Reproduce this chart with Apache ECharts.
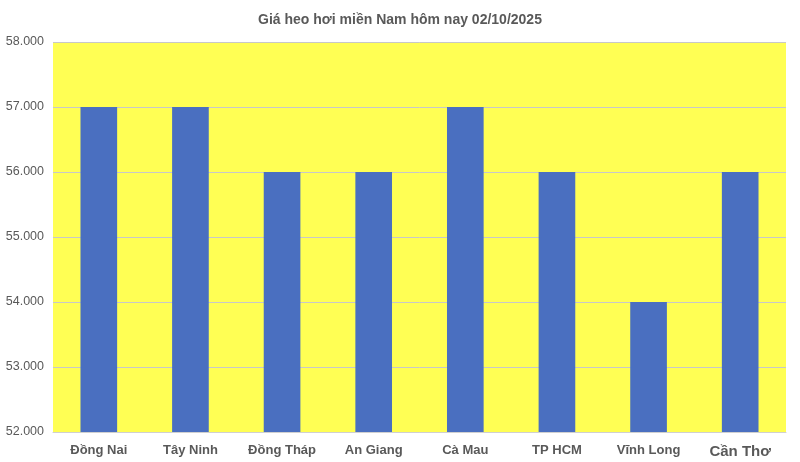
<!DOCTYPE html>
<html><head><meta charset="utf-8">
<script src="https://cdn.jsdelivr.net/npm/echarts@6/dist/echarts.min.js"></script>
<style>html,body{margin:0;padding:0;background:#fff}#c{width:800px;height:462px}</style>
</head><body><div id="c"></div>
<script>
const title = 'Giá heo hơi miền Nam hôm nay 02/10/2025';
const categories = ['Đồng Nai','Tây Ninh','Đồng Tháp','An Giang','Cà Mau','TP HCM','Vĩnh Long','Cần Thơ'];
const prices = [57000,57000,56000,56000,57000,56000,54000,56000];
const yMin = 52000, yMax = 58000, yStep = 1000;

const chart = echarts.init(document.getElementById('c'));
chart.setOption({
  backgroundColor:'#ffffff',
  animation:false,
  title:{text:title,left:'center',top:8,textStyle:{fontFamily:'Liberation Sans',fontWeight:'bold',fontSize:14,color:'#595959'}},
  grid:{left:53,right:14,top:42,bottom:30,backgroundColor:'#FFFF54',show:true,borderWidth:0},
  xAxis:{type:'category',data:categories,
    axisLine:{show:true,lineStyle:{color:'#d0d0d0'}},axisTick:{show:false},
    axisLabel:{interval:0,fontFamily:'Liberation Sans',fontWeight:'bold',fontSize:13,color:'#595959',margin:12,
      formatter:v=>v==='Cần Thơ'?'{big|'+v+'}':v,
      rich:{big:{fontFamily:'Liberation Sans',fontWeight:'bold',fontSize:15,color:'#595959'}}}},
  yAxis:{type:'value',min:yMin,max:yMax,interval:yStep,
    axisLine:{show:false},axisTick:{show:false},
    splitLine:{lineStyle:{color:'#c8c8c8',width:1}},
    axisLabel:{fontFamily:'Liberation Sans',fontSize:12.5,color:'#595959',margin:9,
      formatter:v=>v.toLocaleString('de-DE',{minimumFractionDigits:0}).replace(/,/g,'.')}},
  series:[{type:'bar',data:prices,barWidth:'40%',itemStyle:{color:'#4A6FC0'}}]
});
</script></body></html>
